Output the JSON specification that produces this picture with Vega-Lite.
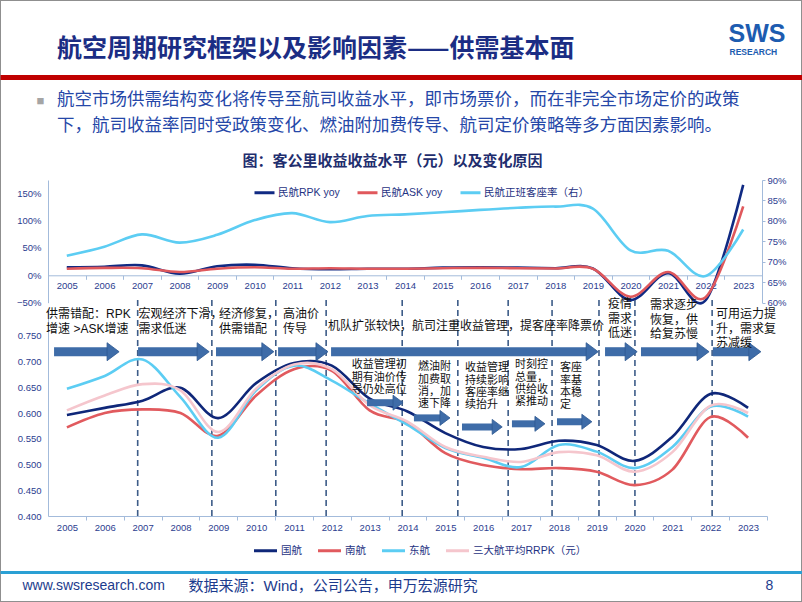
{
"$schema": "https://vega.github.io/schema/vega-lite/v6.json",
"width": 802, "height": 602, "padding": 0,
"autosize": {"type": "none"},
"background": "#ffffff",
"config": {
  "font": "Liberation Sans, Noto Sans CJK SC",
  "view": {"stroke": "#8f8f8f", "strokeWidth": 2},
  "axis": {"grid": false, "labelFont": "Liberation Sans, Noto Sans CJK SC", "labelFontSize": 9.5, "labelColor": "#2c3d8f", "domainColor": "#a3bbdb", "domainWidth": 1, "tickColor": "#a3bbdb", "titleFont": "Liberation Sans, Noto Sans CJK SC"},
  "legend": {"labelFont": "Liberation Sans, Noto Sans CJK SC", "labelFontSize": 10.5, "labelColor": "#1f3383", "symbolType": "stroke", "symbolStrokeWidth": 3, "direction": "horizontal", "orient": "none"}
},
"title": {
  "text": "航空周期研究框架以及影响因素——供需基本面",
  "subtitle": ["航空市场供需结构变化将传导至航司收益水平，即市场票价，而在非完全市场定价的政策", "下，航司收益率同时受政策变化、燃油附加费传导、航司定价策略等多方面因素影响。"],
  "anchor": "start", "frame": "group", "orient": "top", "dx": 57, "offset": -134,
  "font": "Noto Sans CJK SC", "fontSize": 25, "fontWeight": "bold", "color": "#1b2d84",
  "subtitleFont": "Noto Sans CJK SC", "subtitleFontSize": 17.5, "subtitleColor": "#2547a8", "subtitleLineHeight": 26, "subtitlePadding": 29
},
"datasets": {
  "yoy": [
    {"year":2005,"series":"民航RPK yoy","value":0.146},{"year":2006,"series":"民航RPK yoy","value":0.157},{"year":2007,"series":"民航RPK yoy","value":0.182},{"year":2008,"series":"民航RPK yoy","value":0.03},{"year":2009,"series":"民航RPK yoy","value":0.165},{"year":2010,"series":"民航RPK yoy","value":0.193},{"year":2011,"series":"民航RPK yoy","value":0.128},{"year":2012,"series":"民航RPK yoy","value":0.11},{"year":2013,"series":"民航RPK yoy","value":0.12},{"year":2014,"series":"民航RPK yoy","value":0.12},{"year":2015,"series":"民航RPK yoy","value":0.14},{"year":2016,"series":"民航RPK yoy","value":0.145},{"year":2017,"series":"民航RPK yoy","value":0.14},{"year":2018,"series":"民航RPK yoy","value":0.13},{"year":2019,"series":"民航RPK yoy","value":0.125},{"year":2020,"series":"民航RPK yoy","value":-0.45},{"year":2021,"series":"民航RPK yoy","value":0.04},{"year":2022,"series":"民航RPK yoy","value":-0.455},{"year":2023,"series":"民航RPK yoy","value":1.65},
    {"year":2005,"series":"民航ASK yoy","value":0.12},{"year":2006,"series":"民航ASK yoy","value":0.135},{"year":2007,"series":"民航ASK yoy","value":0.13},{"year":2008,"series":"民航ASK yoy","value":0.06},{"year":2009,"series":"民航ASK yoy","value":0.12},{"year":2010,"series":"民航ASK yoy","value":0.146},{"year":2011,"series":"民航ASK yoy","value":0.12},{"year":2012,"series":"民航ASK yoy","value":0.13},{"year":2013,"series":"民航ASK yoy","value":0.12},{"year":2014,"series":"民航ASK yoy","value":0.12},{"year":2015,"series":"民航ASK yoy","value":0.13},{"year":2016,"series":"民航ASK yoy","value":0.135},{"year":2017,"series":"民航ASK yoy","value":0.13},{"year":2018,"series":"民航ASK yoy","value":0.125},{"year":2019,"series":"民航ASK yoy","value":0.12},{"year":2020,"series":"民航ASK yoy","value":-0.39},{"year":2021,"series":"民航ASK yoy","value":0.06},{"year":2022,"series":"民航ASK yoy","value":-0.40},{"year":2023,"series":"民航ASK yoy","value":1.26}
  ],
  "lf": [
    {"year":2005,"series":"民航正班客座率（右）","value":0.715},{"year":2006,"series":"民航正班客座率（右）","value":0.737},{"year":2007,"series":"民航正班客座率（右）","value":0.767},{"year":2008,"series":"民航正班客座率（右）","value":0.747},{"year":2009,"series":"民航正班客座率（右）","value":0.766},{"year":2010,"series":"民航正班客座率（右）","value":0.802},{"year":2011,"series":"民航正班客座率（右）","value":0.819},{"year":2012,"series":"民航正班客座率（右）","value":0.797},{"year":2013,"series":"民航正班客座率（右）","value":0.812},{"year":2014,"series":"民航正班客座率（右）","value":0.816},{"year":2015,"series":"民航正班客座率（右）","value":0.821},{"year":2016,"series":"民航正班客座率（右）","value":0.827},{"year":2017,"series":"民航正班客座率（右）","value":0.832},{"year":2018,"series":"民航正班客座率（右）","value":0.835},{"year":2019,"series":"民航正班客座率（右）","value":0.83},{"year":2020,"series":"民航正班客座率（右）","value":0.728},{"year":2021,"series":"民航正班客座率（右）","value":0.727},{"year":2022,"series":"民航正班客座率（右）","value":0.665},{"year":2023,"series":"民航正班客座率（右）","value":0.779}
  ],
  "rrpk": [
    {"year":2005,"airline":"国航","value":0.596},{"year":2006,"airline":"国航","value":0.610},{"year":2007,"airline":"国航","value":0.624},{"year":2008,"airline":"国航","value":0.649},{"year":2009,"airline":"国航","value":0.590},{"year":2010,"airline":"国航","value":0.658},{"year":2011,"airline":"国航","value":0.697},{"year":2012,"airline":"国航","value":0.692},{"year":2013,"airline":"国航","value":0.628},{"year":2014,"airline":"国航","value":0.603},{"year":2015,"airline":"国航","value":0.561},{"year":2016,"airline":"国航","value":0.534},{"year":2017,"airline":"国航","value":0.530},{"year":2018,"airline":"国航","value":0.546},{"year":2019,"airline":"国航","value":0.538},{"year":2020,"airline":"国航","value":0.507},{"year":2021,"airline":"国航","value":0.554},{"year":2022,"airline":"国航","value":0.637},{"year":2023,"airline":"国航","value":0.610},
    {"year":2005,"airline":"南航","value":0.572},{"year":2006,"airline":"南航","value":0.600},{"year":2007,"airline":"南航","value":0.607},{"year":2008,"airline":"南航","value":0.600},{"year":2009,"airline":"南航","value":0.556},{"year":2010,"airline":"南航","value":0.634},{"year":2011,"airline":"南航","value":0.685},{"year":2012,"airline":"南航","value":0.682},{"year":2013,"airline":"南航","value":0.605},{"year":2014,"airline":"南航","value":0.581},{"year":2015,"airline":"南航","value":0.522},{"year":2016,"airline":"南航","value":0.499},{"year":2017,"airline":"南航","value":0.491},{"year":2018,"airline":"南航","value":0.493},{"year":2019,"airline":"南航","value":0.486},{"year":2020,"airline":"南航","value":0.460},{"year":2021,"airline":"南航","value":0.490},{"year":2022,"airline":"南航","value":0.592},{"year":2023,"airline":"南航","value":0.552},
    {"year":2005,"airline":"东航","value":0.647},{"year":2006,"airline":"东航","value":0.672},{"year":2007,"airline":"东航","value":0.704},{"year":2008,"airline":"东航","value":0.631},{"year":2009,"airline":"东航","value":0.552},{"year":2010,"airline":"东航","value":0.644},{"year":2011,"airline":"东航","value":0.692},{"year":2012,"airline":"东航","value":0.663},{"year":2013,"airline":"东航","value":0.618},{"year":2014,"airline":"东航","value":0.577},{"year":2015,"airline":"东航","value":0.532},{"year":2016,"airline":"东航","value":0.513},{"year":2017,"airline":"东航","value":0.495},{"year":2018,"airline":"东航","value":0.538},{"year":2019,"airline":"东航","value":0.525},{"year":2020,"airline":"东航","value":0.493},{"year":2021,"airline":"东航","value":0.534},{"year":2022,"airline":"东航","value":0.612},{"year":2023,"airline":"东航","value":0.593},
    {"year":2005,"airline":"三大航平均RRPK（元）","value":0.605},{"year":2006,"airline":"三大航平均RRPK（元）","value":0.634},{"year":2007,"airline":"三大航平均RRPK（元）","value":0.656},{"year":2008,"airline":"三大航平均RRPK（元）","value":0.644},{"year":2009,"airline":"三大航平均RRPK（元）","value":0.563},{"year":2010,"airline":"三大航平均RRPK（元）","value":0.647},{"year":2011,"airline":"三大航平均RRPK（元）","value":0.694},{"year":2012,"airline":"三大航平均RRPK（元）","value":0.685},{"year":2013,"airline":"三大航平均RRPK（元）","value":0.615},{"year":2014,"airline":"三大航平均RRPK（元）","value":0.583},{"year":2015,"airline":"三大航平均RRPK（元）","value":0.534},{"year":2016,"airline":"三大航平均RRPK（元）","value":0.515},{"year":2017,"airline":"三大航平均RRPK（元）","value":0.505},{"year":2018,"airline":"三大航平均RRPK（元）","value":0.524},{"year":2019,"airline":"三大航平均RRPK（元）","value":0.518},{"year":2020,"airline":"三大航平均RRPK（元）","value":0.486},{"year":2021,"airline":"三大航平均RRPK（元）","value":0.524},{"year":2022,"airline":"三大航平均RRPK（元）","value":0.614},{"year":2023,"airline":"三大航平均RRPK（元）","value":0.600}
  ],
  "dividers": [
    {"x":2006.87},{"x":2008.83},{"x":2010.52},{"x":2011.85},{"x":2013.86},{"x":2015.33},{"x":2016.66},{"x":2017.82},{"x":2019.06},{"x":2020.01},{"x":2022.05}
  ],
  "arrows": [
    {"tier":"main","start":2004.66,"end":2006.22,"level":0.719},
    {"tier":"main","start":2006.88,"end":2008.60,"level":0.719},
    {"tier":"main","start":2008.94,"end":2010.31,"level":0.719},
    {"tier":"main","start":2010.58,"end":2011.74,"level":0.719},
    {"tier":"main","start":2011.98,"end":2018.88,"level":0.719},
    {"tier":"main","start":2019.22,"end":2019.91,"level":0.719},
    {"tier":"main","start":2020.17,"end":2021.81,"level":0.719},
    {"tier":"main","start":2022.07,"end":2023.18,"level":0.719},
    {"tier":"detail","start":2012.93,"end":2013.75,"level":0.62},
    {"tier":"detail","start":2014.17,"end":2014.99,"level":0.5905},
    {"tier":"detail","start":2015.44,"end":2016.37,"level":0.573},
    {"tier":"detail","start":2016.76,"end":2017.50,"level":0.579},
    {"tier":"detail","start":2017.95,"end":2018.74,"level":0.583}
  ],
  "notes": [
    {"tier":"main","x":2004.45,"y":0.8015,"label":"供需错配：RPK\n增速 >ASK增速"},
    {"tier":"main","x":2006.89,"y":0.8015,"label":"宏观经济下滑，\n需求低迷"},
    {"tier":"main","x":2009.02,"y":0.8015,"label":"经济修复，\n供需错配"},
    {"tier":"main","x":2010.71,"y":0.8015,"label":"高油价\n传导"},
    {"tier":"main","x":2011.90,"y":0.778,"label":"机队扩张较快，航司注重收益管理，提客座率降票价"},
    {"tier":"main","x":2019.30,"y":0.821,"label":"疫情\n需求\n低迷"},
    {"tier":"main","x":2020.41,"y":0.819,"label":"需求逐步\n恢复，供\n给复苏慢"},
    {"tier":"main","x":2022.15,"y":0.801,"label":"可用运力提\n升，需求复\n苏减缓"},
    {"tier":"detail","x":2012.53,"y":0.7043,"label":"收益管理初\n期有油价传\n导仍处高位"},
    {"tier":"detail","x":2014.28,"y":0.7004,"label":"燃油附\n加费取\n消，加\n速下降"},
    {"tier":"detail","x":2015.52,"y":0.6985,"label":"收益管理\n持续影响\n客座率继\n续抬升"},
    {"tier":"detail","x":2016.84,"y":0.7043,"label":"时刻控\n总量，\n供给收\n紧推动"},
    {"tier":"detail","x":2018.03,"y":0.6985,"label":"客座\n率基\n本稳\n定"}
  ]
},
"layer": [
  {
    "layer": [
      {
        "data": {"name": "yoy"},
        "mark": {"type": "line", "strokeWidth": 2.6, "interpolate": "cardinal"},
        "encoding": {
          "x": {"field": "year", "type": "quantitative", "scale": {"domain": [2004.5, 2023.5], "range": [48, 762], "nice": false, "zero": false},
                "axis": {"orient": "bottom", "offset": -326.7, "values": [2004,2005,2006,2007,2008,2009,2010,2011,2012,2013,2014,2015,2016,2017,2018,2019,2020,2021,2022,2023], "format": "d", "labelExpr": "datum.value < 2005 ? '' : datum.label", "tickOffset": 18.79, "labelOffset": -18.79, "tickSize": 4, "labelPadding": 1, "title": null}},
          "y": {"field": "value", "type": "quantitative", "scale": {"domain": [-0.5, 1.74], "range": [302.7, 180], "nice": false, "zero": false},
                "axis": {"orient": "left", "offset": -48, "values": [-0.5, 0, 0.5, 1, 1.5], "format": ".0%", "ticks": false, "labelPadding": 7,
                         "title": "■", "titleAngle": 0, "titleX": -8, "titleY": 100, "titleFontSize": 13, "titleColor": "#a5a5a5", "titleAlign": "center", "titleBaseline": "middle", "titleFontWeight": "normal"}},
          "color": {"field": "series", "type": "nominal",
                    "scale": {"domain": ["民航RPK yoy", "民航ASK yoy", "民航正班客座率（右）"], "range": ["#102a83", "#e0585c", "#5ccdf3"]},
                    "legend": {"title": null, "orient": "none", "legendX": 253, "legendY": 181, "direction": "horizontal", "symbolType": "stroke", "symbolSize": 400, "symbolStrokeWidth": 3, "columnPadding": 11, "labelOffset": 2, "labelFontSize": 10.5}}
        }
      },
      {
        "data": {"name": "lf"},
        "mark": {"type": "line", "strokeWidth": 2.6, "interpolate": "cardinal"},
        "encoding": {
          "x": {"field": "year", "type": "quantitative", "scale": {"domain": [2004.5, 2023.5], "range": [48, 762], "nice": false, "zero": false},
                "axis": {"orient": "top", "offset": -170, "domain": false, "ticks": false, "labels": false,
                         "title": "图：客公里收益收益水平（元）以及变化原因", "titleX": 392, "titleY": -10, "titleAlign": "center", "titleBaseline": "middle", "titleFontSize": 15, "titleFontWeight": "bold", "titleColor": "#1f2e6e", "titleFont": "Noto Sans CJK SC"}},
          "y": {"field": "value", "type": "quantitative", "scale": {"domain": [0.6, 0.9], "range": [302.7, 180], "nice": false, "zero": false},
                "axis": {"orient": "right", "offset": -40, "values": [0.6, 0.65, 0.7, 0.75, 0.8, 0.85, 0.9], "format": ".0%", "tickSize": 3, "labelPadding": 2, "title": null}},
          "color": {"field": "series", "type": "nominal",
                    "scale": {"domain": ["民航RPK yoy", "民航ASK yoy", "民航正班客座率（右）"], "range": ["#102a83", "#e0585c", "#5ccdf3"]},
                    "legend": {"title": null, "orient": "none", "legendX": 253, "legendY": 181, "direction": "horizontal", "symbolType": "stroke", "symbolSize": 400, "symbolStrokeWidth": 3, "columnPadding": 11, "labelOffset": 2, "labelFontSize": 10.5}}
        }
      }
    ],
    "resolve": {"scale": {"y": "independent"}, "axis": {"x": "independent", "y": "independent"}}
  },
  {
    "layer": [
      {
        "data": {"name": "dividers"},
        "mark": {"type": "rule", "strokeDash": [6, 4], "strokeWidth": 1.6, "color": "#3d5c88"},
        "encoding": {
          "x": {"field": "x", "type": "quantitative", "scale": {"domain": [2004.5, 2023.5], "range": [48, 767], "nice": false, "zero": false}, "axis": null},
          "y": {"datum": 0.4, "type": "quantitative", "scale": {"domain": [0.4, 0.8], "range": [516, 310], "nice": false, "zero": false}, "axis": null},
          "y2": {"datum": 0.822}
        }
      },
      {
        "data": {"name": "rrpk"},
        "mark": {"type": "line", "strokeWidth": 2.6, "interpolate": "cardinal"},
        "encoding": {
          "x": {"field": "year", "type": "quantitative", "scale": {"domain": [2004.5, 2023.5], "range": [48, 767], "nice": false, "zero": false},
                "axis": {"orient": "bottom", "offset": -86, "values": [2004,2005,2006,2007,2008,2009,2010,2011,2012,2013,2014,2015,2016,2017,2018,2019,2020,2021,2022,2023], "format": "d", "labelExpr": "datum.value < 2005 ? '' : datum.label", "tickOffset": 18.92, "labelOffset": -18.92, "tickSize": 4, "labelPadding": 2, "title": null}},
          "y": {"field": "value", "type": "quantitative", "scale": {"domain": [0.4, 0.8], "range": [516, 310], "nice": false, "zero": false},
                "axis": {"orient": "left", "offset": -48, "values": [0.4, 0.45, 0.5, 0.55, 0.6, 0.65, 0.7, 0.75], "format": ".3f", "ticks": false, "labelPadding": 7,
                         "title": "8", "titleAngle": 0, "titleX": 717, "titleY": 585, "titleAlign": "left", "titleBaseline": "middle", "titleFontSize": 14, "titleFontWeight": "normal", "titleColor": "#1c3b8d"}},
          "color": {"field": "airline", "type": "nominal",
                    "scale": {"domain": ["国航", "南航", "东航", "三大航平均RRPK（元）"], "range": ["#0f2779", "#e15a5e", "#5ccdf3", "#f5c6cd"]},
                    "legend": {"title": null, "orient": "none", "legendX": 252, "legendY": 537, "direction": "horizontal", "symbolType": "stroke", "symbolSize": 530, "symbolStrokeWidth": 3, "columnPadding": 9, "labelOffset": 2, "labelFontSize": 10.5}}
        }
      },
      {
        "data": {"name": "arrows"},
        "transform": [{"filter": "datum.tier == 'main'"}],
        "mark": {"type": "rule", "strokeWidth": 9, "color": "#3e6ca8", "strokeCap": "butt"},
        "encoding": {
          "x": {"field": "start", "type": "quantitative", "scale": {"domain": [2004.5, 2023.5], "range": [48, 767], "nice": false, "zero": false}, "axis": null},
          "x2": {"field": "end"},
          "y": {"field": "level", "type": "quantitative", "scale": {"domain": [0.4, 0.8], "range": [516, 310], "nice": false, "zero": false}, "axis": null}
        }
      },
      {
        "data": {"name": "arrows"},
        "transform": [{"filter": "datum.tier == 'main'"}],
        "mark": {"type": "point", "shape": "M-0.67,-1L0.67,0L-0.67,1Z", "size": 324, "filled": true, "color": "#3e6ca8", "opacity": 1, "stroke": "#2d5890", "strokeWidth": 0.8},
        "encoding": {
          "x": {"field": "end", "type": "quantitative", "scale": {"domain": [2004.5, 2023.5], "range": [48, 767], "nice": false, "zero": false}, "axis": null},
          "y": {"field": "level", "type": "quantitative", "scale": {"domain": [0.4, 0.8], "range": [516, 310], "nice": false, "zero": false}, "axis": null}
        }
      },
      {
        "data": {"name": "arrows"},
        "transform": [{"filter": "datum.tier == 'detail'"}],
        "mark": {"type": "rule", "strokeWidth": 7, "color": "#3e6ca8", "strokeCap": "butt"},
        "encoding": {
          "x": {"field": "start", "type": "quantitative", "scale": {"domain": [2004.5, 2023.5], "range": [48, 767], "nice": false, "zero": false}, "axis": null},
          "x2": {"field": "end"},
          "y": {"field": "level", "type": "quantitative", "scale": {"domain": [0.4, 0.8], "range": [516, 310], "nice": false, "zero": false}, "axis": null}
        }
      },
      {
        "data": {"name": "arrows"},
        "transform": [{"filter": "datum.tier == 'detail'"}],
        "mark": {"type": "point", "shape": "M-0.67,-1L0.67,0L-0.67,1Z", "size": 225, "filled": true, "color": "#3e6ca8", "opacity": 1, "stroke": "#2d5890", "strokeWidth": 0.8},
        "encoding": {
          "x": {"field": "end", "type": "quantitative", "scale": {"domain": [2004.5, 2023.5], "range": [48, 767], "nice": false, "zero": false}, "axis": null},
          "y": {"field": "level", "type": "quantitative", "scale": {"domain": [0.4, 0.8], "range": [516, 310], "nice": false, "zero": false}, "axis": null}
        }
      },
      {
        "data": {"name": "notes"},
        "transform": [{"filter": "datum.tier == 'main'"}],
        "mark": {"type": "text", "align": "left", "baseline": "top", "fontSize": 12, "lineHeight": 14.5, "lineBreak": "\n", "color": "#111111", "font": "Liberation Sans, Noto Sans CJK SC"},
        "encoding": {
          "x": {"field": "x", "type": "quantitative", "scale": {"domain": [2004.5, 2023.5], "range": [48, 767], "nice": false, "zero": false}, "axis": null},
          "y": {"field": "y", "type": "quantitative", "scale": {"domain": [0.4, 0.8], "range": [516, 310], "nice": false, "zero": false}, "axis": null},
          "text": {"field": "label"}
        }
      },
      {
        "data": {"name": "notes"},
        "transform": [{"filter": "datum.tier == 'detail'"}],
        "mark": {"type": "text", "align": "left", "baseline": "top", "fontSize": 11, "lineHeight": 12.3, "lineBreak": "\n", "color": "#111111", "font": "Liberation Sans, Noto Sans CJK SC"},
        "encoding": {
          "x": {"field": "x", "type": "quantitative", "scale": {"domain": [2004.5, 2023.5], "range": [48, 767], "nice": false, "zero": false}, "axis": null},
          "y": {"field": "y", "type": "quantitative", "scale": {"domain": [0.4, 0.8], "range": [516, 310], "nice": false, "zero": false}, "axis": null},
          "text": {"field": "label"}
        }
      }
    ],
    "resolve": {"axis": {"x": "independent", "y": "independent"}}
  },
  {
    "data": {"name": "rrpk"},
    "mark": {"type": "point", "opacity": 0},
    "encoding": {
      "x": {"field": "year", "type": "quantitative", "scale": {"domain": [2004.5, 2023.5], "range": [0, 802], "nice": false, "zero": false},
            "axis": {"orient": "bottom", "offset": -30, "domainColor": "#2aa0d4", "domainWidth": 3, "ticks": false, "labels": false,
                     "title": "www.swsresearch.com", "titleX": 22, "titleY": 13, "titleAlign": "left", "titleBaseline": "middle", "titleFontSize": 14, "titleFontWeight": "normal", "titleColor": "#1c3b8d"}},
      "y": {"field": "value", "type": "quantitative", "scale": {"domain": [0.4, 0.8], "range": [602, 0], "nice": false, "zero": false},
            "axis": {"orient": "left", "offset": 0, "domain": false, "ticks": false, "labels": false,
                     "title": "数据来源：Wind，公司公告，申万宏源研究", "titleAngle": 0, "titleX": 188, "titleY": 585, "titleAlign": "left", "titleBaseline": "middle", "titleFontSize": 15, "titleFontWeight": "normal", "titleColor": "#1c3b8d", "titleFont": "Liberation Sans, Noto Sans CJK SC"}}
    }
  },
  {
    "data": {"name": "rrpk"},
    "mark": {"type": "point", "opacity": 0},
    "encoding": {
      "x": {"field": "year", "type": "quantitative", "scale": {"domain": [2004.5, 2023.5], "range": [0, 802], "nice": false, "zero": false},
            "axis": {"orient": "top", "offset": -77, "domainColor": "#c00000", "domainWidth": 5, "ticks": false, "labels": false,
                     "title": "SWS", "titleX": 728, "titleY": -44, "titleAlign": "left", "titleBaseline": "middle", "titleFontSize": 25, "titleFontWeight": "bold", "titleColor": "#1d5cb0"}},
      "y": {"field": "value", "type": "quantitative", "scale": {"domain": [0.4, 0.8], "range": [602, 0], "nice": false, "zero": false},
            "axis": {"orient": "right", "offset": 0, "domain": false, "ticks": false, "labels": false,
                     "title": "RESEARCH", "titleAngle": 0, "titleX": -73, "titleY": 51, "titleAlign": "left", "titleBaseline": "middle", "titleFontSize": 8.5, "titleFontWeight": "bold", "titleColor": "#1d5cb0"}}
    }
  }
],
"resolve": {"scale": {"x": "independent", "y": "independent", "color": "independent"}, "axis": {"x": "independent", "y": "independent"}}
}
